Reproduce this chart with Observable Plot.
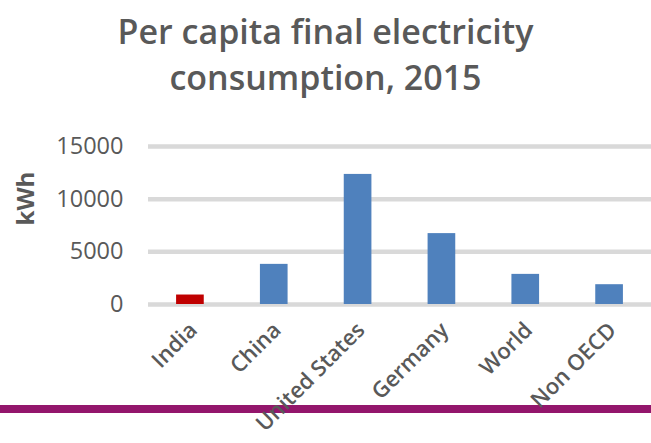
<!DOCTYPE html>
<html>
<head>
<meta charset="utf-8">
<script src="https://cdn.jsdelivr.net/npm/d3@7"></script>
<script src="https://cdn.jsdelivr.net/npm/@observablehq/plot@0.6"></script>
<style>
  html, body { margin: 0; padding: 0; background: #fff; }
  #wrap { position: relative; width: 651px; height: 443px; overflow: hidden; font-family: "Open Sans", Lato, sans-serif; }
  #title { position: absolute; left: 0; top: 8px; width: 651px; text-align: center; color: #595959; font-size: 34px; line-height: 46px; font-weight: 600; }
  #band { position: absolute; left: 0; top: 405px; width: 651px; height: 8px; background: #93166c; }
  #chart { position: absolute; left: 0; top: 110px; }
</style>
</head>
<body>
<div id="wrap">
  <div id="band"></div>
  <div id="title">Per capita final electricity<br>consumption, 2015</div>
  <div id="chart"></div>
</div>
<script>
const countries = ["India", "China", "United States", "Germany", "World", "Non OECD"];
const consumption = [900, 3810, 12350, 6730, 2860, 1880];
const barColors = ["#c00000", "#4f81bd", "#4f81bd", "#4f81bd", "#4f81bd", "#4f81bd"];
const yTicks = [0, 5000, 10000, 15000];
const yLabel = "kWh";

const data = countries.map((c, i) => ({country: c, value: consumption[i], color: barColors[i]}));

const chart = Plot.plot({
  width: 651,
  height: 333,
  marginLeft: 148,
  marginRight: 0,
  marginTop: 36,
  marginBottom: 139,
  style: {fontFamily: "'Open Sans', Lato, sans-serif", color: "#595959", background: "transparent", overflow: "visible"},
  x: {domain: countries, paddingInner: 0.67, paddingOuter: 0.335, round: false, label: null},
  y: {domain: [0, 15000], label: null},
  marks: [
    Plot.ruleY(yTicks, {stroke: "#d9d9d9", strokeWidth: 4.5}),
    Plot.barY(data, {x: "country", y: "value", fill: "color"}),
    Plot.axisY({ticks: yTicks, tickSize: 0, tickPadding: 25, fontSize: 23.5, label: null, tickFormat: d => String(d)}),
    Plot.axisX({tickSize: 0, tickRotate: -45, tickPadding: 14, dx: 3, dy: 8, fontSize: 22, fontWeight: 600, label: null}),
    Plot.text([yLabel], {frameAnchor: "left", dx: -122, rotate: -90, fontSize: 24, fontWeight: "bold", fill: "#595959"})
  ]
});
document.getElementById("chart").appendChild(chart);
</script>
</body>
</html>
